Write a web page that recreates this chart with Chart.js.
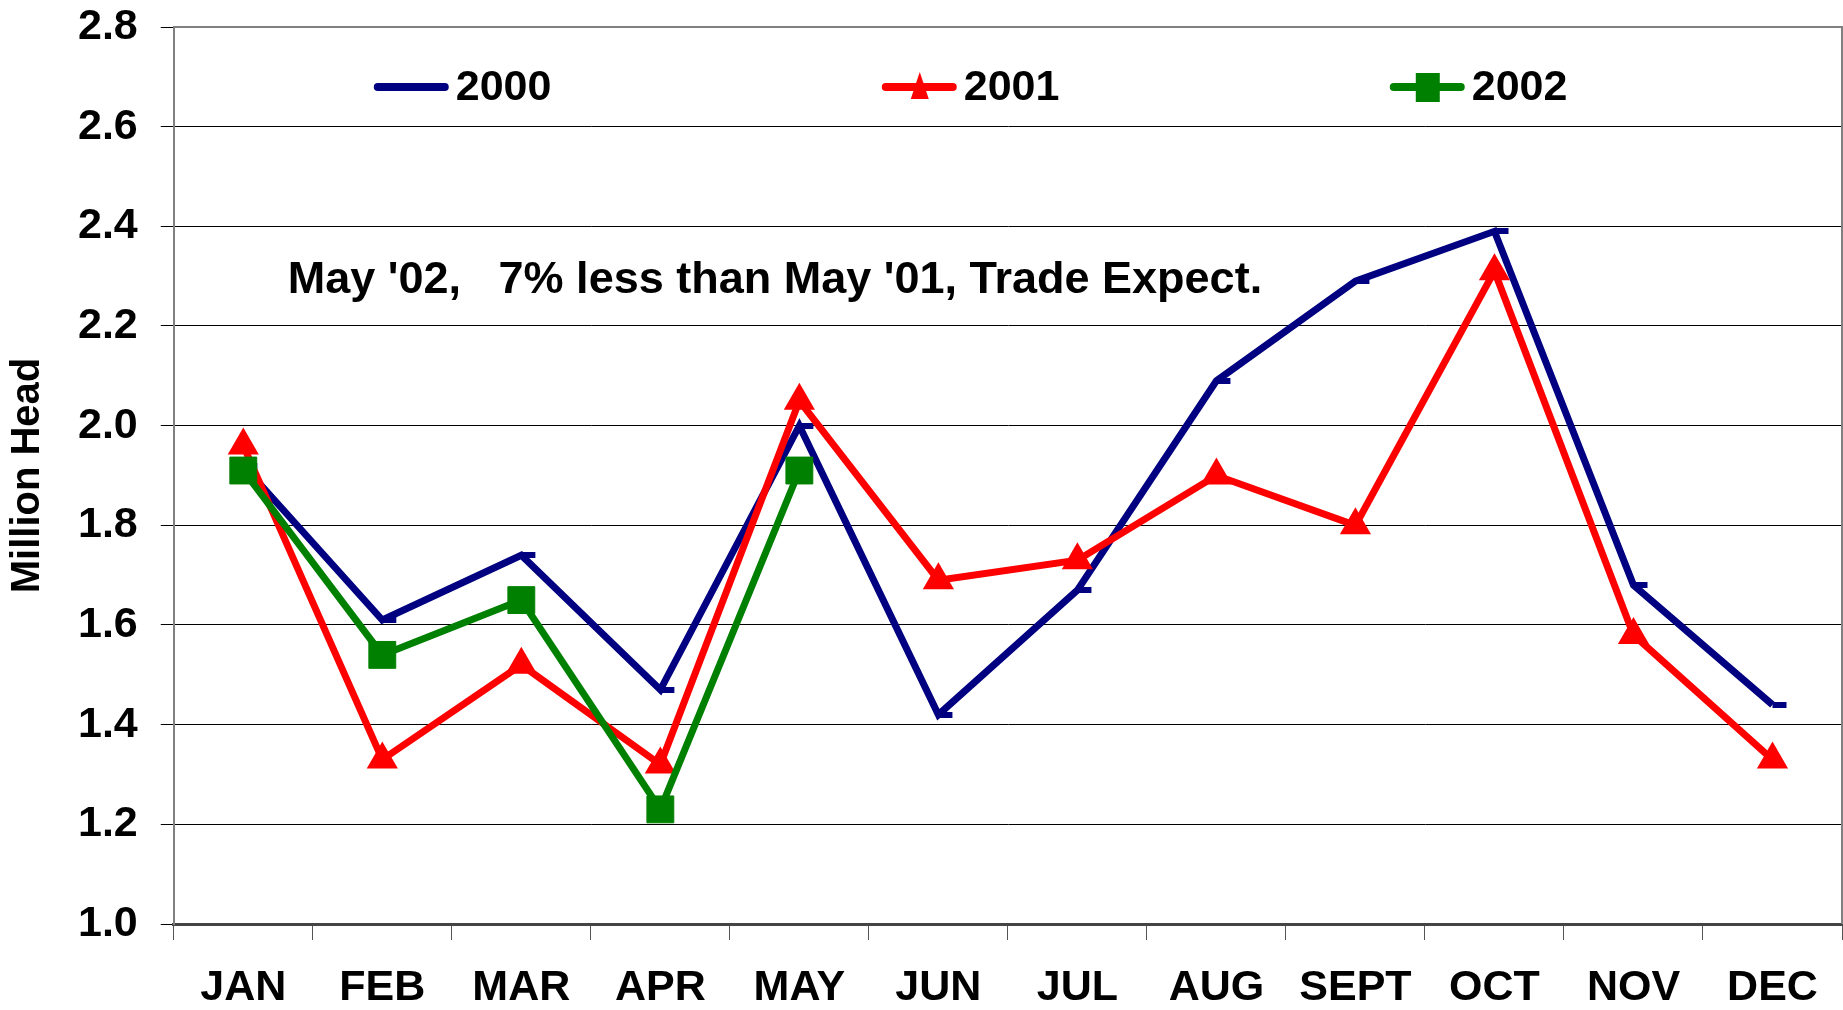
<!DOCTYPE html>
<html>
<head>
<meta charset="utf-8">
<script src="https://cdn.jsdelivr.net/npm/chart.js@4.4.1/dist/chart.umd.min.js"></script>
<style>
  html, body { margin: 0; padding: 0; background: #fff; }
  #myChart { display: block; }
</style>
</head>
<body>
<canvas id="myChart" width="1843" height="1010"></canvas>
<script>
const months = ['JAN', 'FEB', 'MAR', 'APR', 'MAY', 'JUN', 'JUL', 'AUG', 'SEPT', 'OCT', 'NOV', 'DEC'];
const seriesNames = ['2000', '2001', '2002'];
const values2000 = [1.92, 1.61, 1.74, 1.47, 2.00, 1.42, 1.67, 2.09, 2.29, 2.39, 1.68, 1.44];
const values2001 = [1.96, 1.33, 1.52, 1.32, 2.05, 1.69, 1.73, 1.90, 1.80, 2.31, 1.58, 1.33];
const values2002 = [1.91, 1.54, 1.65, 1.23, 1.91, null, null, null, null, null, null, null];
const yTicks = [1.0, 1.2, 1.4, 1.6, 1.8, 2.0, 2.2, 2.4, 2.6, 2.8];
const noteText = "May '02,   7% less than May '01, Trade Expect.";

const FONT = '"Liberation Sans", Arial, sans-serif';
Chart.defaults.font.family = FONT;
Chart.defaults.font.weight = 'bold';
Chart.defaults.color = '#000';

// excel style "dash" marker, sits right of the point
const dash = document.createElement('canvas');
dash.width = 30;
dash.height = 6;
const dctx = dash.getContext('2d');
dctx.fillStyle = '#000080';
dctx.fillRect(15, 0, 14, 6);

// legend drawn inside the plot, plus the note and plot border
const extras = {
    id: 'extras',
    afterDraw(chart) {
        const {ctx, chartArea} = chart;
        ctx.save();
        ctx.strokeStyle = '#808080';
        ctx.lineWidth = 2;
        ctx.beginPath();
        ctx.moveTo(chartArea.left, chartArea.top);
        ctx.lineTo(chartArea.right, chartArea.top);
        ctx.lineTo(chartArea.right, chartArea.bottom);
        ctx.stroke();

        ctx.font = 'bold 43px ' + FONT;
        ctx.textBaseline = 'middle';
        ctx.fillStyle = '#000';
        const y = chartArea.top + 60;
        chart.data.datasets.forEach((ds, i) => {
            const x0 = chartArea.left + 201 + i * 508;
            ctx.strokeStyle = ds.borderColor;
            ctx.lineWidth = 8;
            ctx.lineCap = 'round';
            ctx.beginPath();
            ctx.moveTo(x0 + 3, y);
            ctx.lineTo(x0 + 70, y);
            ctx.stroke();
            const cx = x0 + 37;
            ctx.fillStyle = ds.borderColor;
            if (ds.pointStyle === 'triangle') {
                ctx.beginPath();
                ctx.moveTo(cx, y - 15);
                ctx.lineTo(cx + 9, y + 12);
                ctx.lineTo(cx - 9, y + 12);
                ctx.closePath();
                ctx.fill();
            } else if (ds.pointStyle === 'rect') {
                ctx.fillRect(cx - 12, y - 14, 24, 29);
            }
            ctx.fillStyle = '#000';
            ctx.fillText(ds.label, x0 + 81, y + 1);
        });

        ctx.textBaseline = 'alphabetic';
        ctx.font = 'bold 45px ' + FONT;
        ctx.fillText(noteText, chartArea.left + 114, 293);
        ctx.restore();
    }
};

const data = {
    labels: months,
    datasets: [
        {
            label: seriesNames[0],
            data: values2000,
            borderColor: '#000080',
            backgroundColor: '#000080',
            borderWidth: 7,
            pointStyle: dash,
            pointRadius: 8,
            order: 3
        },
        {
            label: seriesNames[1],
            data: values2001,
            borderColor: '#ff0000',
            backgroundColor: '#ff0000',
            borderWidth: 7,
            pointStyle: 'triangle',
            pointRadius: 16,
            pointBorderWidth: 2,
            order: 2
        },
        {
            label: seriesNames[2],
            data: values2002,
            borderColor: '#008000',
            backgroundColor: '#008000',
            borderWidth: 7,
            pointStyle: 'rect',
            pointRadius: 19,
            pointBorderWidth: 1,
            order: 1
        }
    ]
};

const config = {
    type: 'line',
    data,
    options: {
        responsive: false,
        animation: false,
        devicePixelRatio: 1,
        layout: {
            autoPadding: false,
            padding: {left: 0, right: 1, top: 27, bottom: 0}
        },
        elements: {
            line: {tension: 0}
        },
        scales: {
            x: {
                offset: true,
                grid: {
                    offset: true,
                    drawOnChartArea: false,
                    tickLength: 16,
                    color: '#555'
                },
                border: {color: '#444', width: 3},
                ticks: {
                    padding: 27,
                    font: {size: 43, weight: 'bold', lineHeight: 1}
                },
                // chart.js counts tick padding twice, take one back
                afterFit: (axis) => {
                    axis.height -= axis.options.ticks.padding;
                    axis.paddingLeft = 0;
                    axis.paddingRight = 0;
                }
            },
            y: {
                min: 1.0,
                max: 2.8,
                afterBuildTicks: (axis) => {
                    axis.ticks = yTicks.map(v => ({value: v}));
                },
                afterFit: (axis) => {
                    axis.width -= axis.options.ticks.padding;
                    axis.paddingTop = 0;
                    axis.paddingBottom = 0;
                },
                grid: {
                    color: '#000',
                    lineWidth: 1,
                    tickLength: 13
                },
                border: {color: '#808080', width: 2},
                ticks: {
                    padding: 23,
                    font: {size: 43, weight: 'bold', lineHeight: 1},
                    callback: (v) => Number(v).toFixed(1)
                },
                title: {
                    display: true,
                    text: 'Million Head',
                    font: {size: 40, weight: 'bold', lineHeight: 1},
                    padding: {top: 8, bottom: 30}
                }
            }
        },
        plugins: {
            legend: {display: false},
            tooltip: {enabled: false}
        }
    },
    plugins: [extras]
};

const myChart = new Chart(
    document.getElementById('myChart'),
    config
);
</script>
</body>
</html>
